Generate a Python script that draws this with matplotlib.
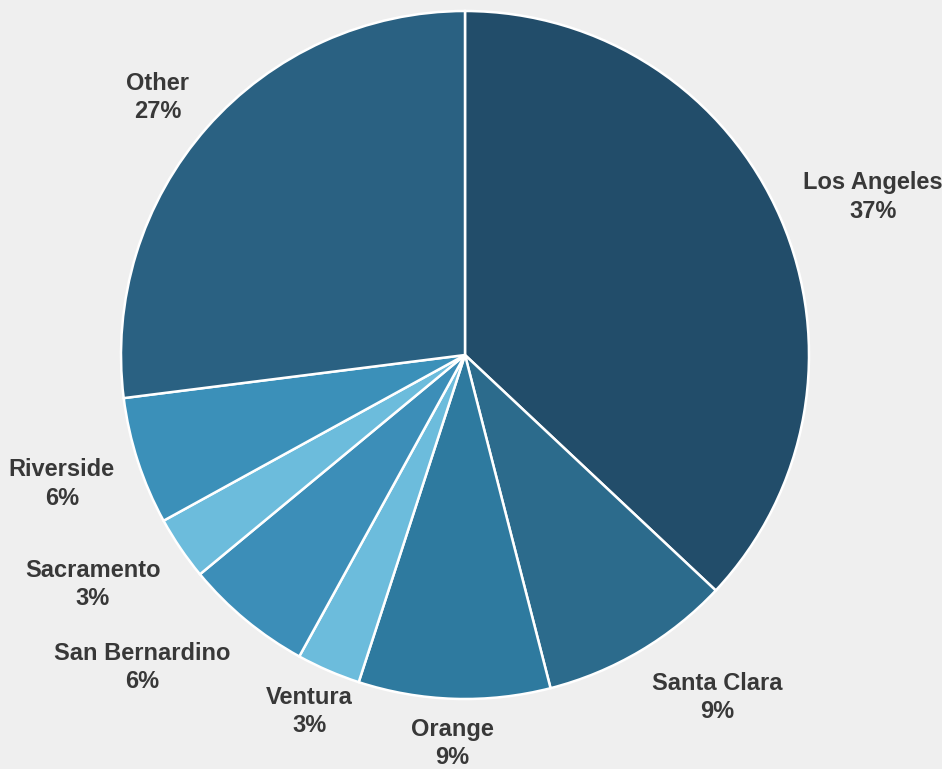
import numpy as np
import matplotlib

matplotlib.use("Agg")
import matplotlib.pyplot as plt

# County share, clockwise from 12 o'clock
counties = ["Los Angeles", "Santa Clara", "Orange", "Ventura",
            "San Bernardino", "Sacramento", "Riverside", "Other"]
shares = [37, 9, 9, 3, 6, 3, 6, 27]
colors = ["#224d6a", "#2c6b8c", "#2e7a9f", "#6cbcdc",
          "#3c8eb8", "#6cbcdc", "#3b90b9", "#2a6182"]

BG = "#efefef"
W, H = 942, 769

fig = plt.figure(figsize=(W / 100, H / 100), dpi=100)
fig.patch.set_facecolor(BG)
ax = fig.add_axes([0, 0, 1, 1])
ax.set_facecolor(BG)

cx, cy, R = 465, H - 355, 344
wedges, _ = ax.pie(
    shares,
    colors=colors,
    startangle=90,
    counterclock=False,
    center=(cx, cy),
    radius=R,
    frame=True,
    wedgeprops=dict(edgecolor="white", linewidth=1.8),
)
ax.set_xlim(0, W)
ax.set_ylim(0, H)
ax.set_aspect("equal")
ax.axis("off")

# Labels sit outside each wedge's mid-angle; side labels hug the pie horizontally,
# the ones near the bottom are centred under their wedge
total = sum(shares)
cum = 0
for name, val in zip(counties, shares):
    mid = (cum + val / 2) / total * 2 * np.pi
    cum += val
    dx, dy = np.sin(mid), np.cos(mid)
    if abs(dx) < 0.45:
        ha = "center"
        x, y = cx + dx * R * 1.14, cy + dy * R * 1.13
    else:
        ha = "left" if dx > 0 else "right"
        x = cx + dx * R * 1.07
        y = cy + dy * R * 1.157 - (6 if dx < 0 else 0)
    ax.text(x, y, f"{name}\n{val}%", ha=ha, va="center", multialignment="center",
            fontsize=17, fontweight="bold", color="#383838",
            family="Liberation Sans", linespacing=1.3)

fig.savefig("out.png", dpi=100, facecolor=BG)
